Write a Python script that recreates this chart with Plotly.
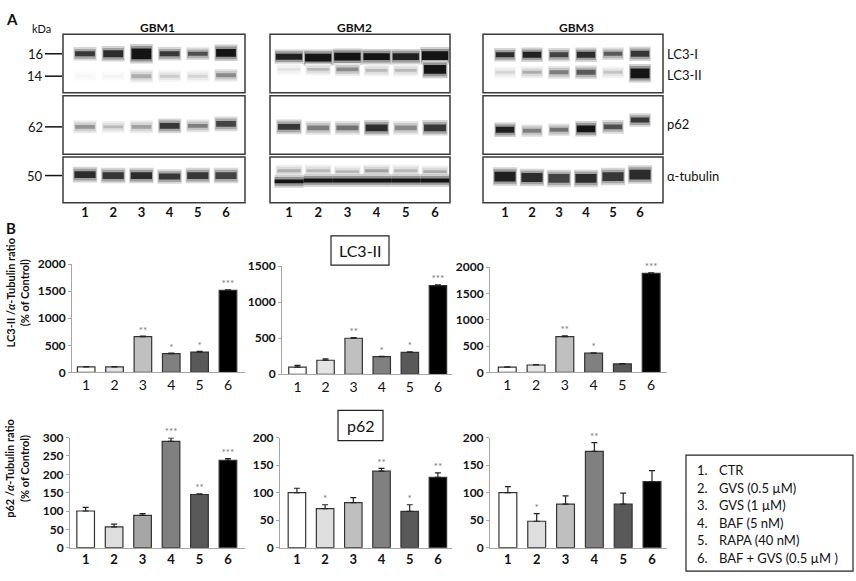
import plotly.graph_objects as go

W, H = 856, 581
FONT = "Lato, Liberation Sans, sans-serif"

# ---------------- data ----------------
lanes = [1, 2, 3, 4, 5, 6]
lane_labels = ["1", "2", "3", "4", "5", "6"]
panels = ["GBM1", "GBM2", "GBM3"]
protein_labels = ["LC3-I", "LC3-II", "p62", "α-tubulin"]
marker_kda = ["16", "14", "62", "50"]
marker_pos = [47, 70, 122, 172]  # migration rows of the ladder marks

# blot band intensity (0-1), band thickness and migration row per lane
gbm1_lc3i = [0.85, 0.9, 1.0, 0.85, 0.75, 1.0]
gbm1_lc3i_h = [5, 7, 11, 5, 4, 8]
gbm1_lc3i_y = [47, 47, 47, 47, 47, 46]
gbm1_lc3ii = [0.04, 0.05, 0.35, 0.22, 0.18, 0.5]
gbm1_lc3ii_h = [3, 3, 4, 3, 3, 4]
gbm1_lc3ii_y = [70, 70, 70, 70, 70, 69]
gbm1_p62 = [0.45, 0.3, 0.4, 0.85, 0.55, 0.8]
gbm1_p62_h = [4, 3, 4, 6, 4, 6]
gbm1_p62_y = [122, 122, 122, 121, 121, 119]
gbm1_tub = [0.9, 0.85, 0.9, 0.85, 0.85, 0.8]
gbm1_tub_h = [7, 7, 7, 6, 7, 7]
gbm1_tub_y = [171, 172, 172, 173, 172, 172]

gbm2_lc3i = [0.95, 1.0, 1.0, 1.0, 0.95, 1.0]
gbm2_lc3i_h = [6, 8, 8, 7, 7, 9]
gbm2_lc3i_y = [50, 51, 50, 50, 50, 49]
gbm2_lc3ii = [0.12, 0.3, 0.5, 0.3, 0.3, 1.0]
gbm2_lc3ii_h = [3, 3, 4, 3, 3, 9]
gbm2_lc3ii_y = [63, 63, 63, 64, 64, 63]
gbm2_p62 = [0.85, 0.55, 0.6, 0.9, 0.5, 0.85]
gbm2_p62_h = [6, 5, 5, 7, 5, 7]
gbm2_p62_y = [122, 123, 123, 123, 123, 123]
gbm2_tub_a = [0.35, 0.3, 0.3, 0.4, 0.3, 0.35]
gbm2_tub_a_h = [3, 3, 3, 3, 3, 3]
gbm2_tub_a_y = [167, 167, 168, 167, 167, 168]
gbm2_tub_b = [1.0, 1.0, 1.0, 1.0, 1.0, 1.0]
gbm2_tub_b_h = [4, 4, 4, 4, 4, 4]
gbm2_tub_b_y = [178, 177, 177, 177, 177, 177]

gbm3_lc3i = [0.9, 0.95, 0.8, 0.9, 0.7, 0.85]
gbm3_lc3i_h = [5, 6, 5, 6, 4, 6]
gbm3_lc3i_y = [48, 48, 48, 48, 47, 47]
gbm3_lc3ii = [0.18, 0.35, 0.55, 0.7, 0.25, 1.0]
gbm3_lc3ii_h = [3, 3, 4, 5, 3, 10]
gbm3_lc3ii_y = [66, 66, 66, 66, 66, 67]
gbm3_p62 = [0.95, 0.55, 0.6, 1.0, 0.75, 0.85]
gbm3_p62_h = [6, 4, 4, 7, 5, 5]
gbm3_p62_y = [125, 126, 125, 124, 122, 115]
gbm3_tub = [0.95, 0.9, 0.8, 0.9, 0.85, 0.9]
gbm3_tub_h = [10, 9, 9, 9, 9, 10]
gbm3_tub_y = [173, 174, 175, 175, 173, 171]

# quantification (% of control), upper error, significance
lc3_gbm1 = [100, 100, 660, 345, 375, 1515]
lc3_gbm1_err = [5, 8, 12, 12, 12, 12]
lc3_gbm1_sig = ["", "", "**", "*", "*", "***"]
lc3_gbm2 = [100, 195, 500, 245, 305, 1230]
lc3_gbm2_err = [25, 20, 8, 5, 5, 10]
lc3_gbm2_sig = ["", "", "**", "*", "*", "***"]
lc3_gbm3 = [100, 140, 680, 365, 160, 1880]
lc3_gbm3_err = [5, 5, 15, 5, 8, 10]
lc3_gbm3_sig = ["", "", "**", "*", "", "***"]

p62_gbm1 = [100, 57, 88, 290, 145, 238]
p62_gbm1_err = [10, 7, 5, 9, 2, 5]
p62_gbm1_sig = ["", "", "", "***", "**", "***"]
p62_gbm2 = [100, 71, 82, 139, 66, 128]
p62_gbm2_err = [8, 7, 9, 5, 12, 8]
p62_gbm2_sig = ["", "*", "", "**", "*", "**"]
p62_gbm3 = [100, 48, 79, 175, 79, 120]
p62_gbm3_err = [11, 14, 15, 16, 20, 20]
p62_gbm3_sig = ["", "*", "", "**", "", ""]

lc3_ticks = [[0, 500, 1000, 1500, 2000], [0, 500, 1000, 1500], [0, 500, 1000, 1500, 2000]]
p62_ticks = [[0, 50, 100, 150, 200, 250, 300], [0, 50, 100, 150, 200], [0, 50, 100, 150, 200]]

treatments = ["CTR", "GVS (0.5 µM)", "GVS (1 µM)", "BAF (5 nM)", "RAPA (40 nM)", "BAF + GVS (0.5 µM )"]

bar_colors_top = ["#ffffff", "#e4e4e4", "#c0c0c0", "#808080", "#595959", "#000000"]
bar_colors_p1 = ["#ffffff", "#dedede", "#a6a6a6", "#808080", "#595959", "#000000"]
bar_colors_bot = ["#ffffff", "#dedede", "#bfbfbf", "#808080", "#595959", "#000000"]


def px(x):
    return x / W


def py(y):
    return 1 - y / H


def grey(v, scale=1.0):
    g = int(round(255 - 235 * v * scale))
    return f"rgb({g},{g},{g})"


def label(text, x, y, size=13, xanchor="center", **kw):
    # paper-anchored text, positions in screen pixels
    return dict(text=text, x=px(x), y=py(y), xref="paper", yref="paper", showarrow=False,
                xanchor=xanchor, yanchor="middle",
                font=dict(family=FONT, size=size, color="#111"), **kw)


fig = go.Figure()
layout = {}
annotations = []
shapes = []

# ---------------- panel A: blots ----------------
blot_cols = [
    dict(name="GBM1", lanes=(85, 226), box=(63, 245), title_x=157,
         bands=[(gbm1_lc3i, gbm1_lc3i_h, gbm1_lc3i_y, 0.7),
                (gbm1_lc3ii, gbm1_lc3ii_h, gbm1_lc3ii_y, 0.7),
                (gbm1_p62, gbm1_p62_h, gbm1_p62_y, 0.7),
                (gbm1_tub, gbm1_tub_h, gbm1_tub_y, 0.75)]),
    dict(name="GBM2", lanes=(289, 435), box=(270, 450), title_x=354,
         bands=[(gbm2_lc3i, gbm2_lc3i_h, gbm2_lc3i_y, 0.9),
                (gbm2_lc3ii, gbm2_lc3ii_h, gbm2_lc3ii_y, 0.75),
                (gbm2_p62, gbm2_p62_h, gbm2_p62_y, 0.75),
                (gbm2_tub_a, gbm2_tub_a_h, gbm2_tub_a_y, 0.8),
                (gbm2_tub_b, gbm2_tub_b_h, gbm2_tub_b_y, 1.0)]),
    dict(name="GBM3", lanes=(505, 640), box=(483, 663), title_x=576,
         bands=[(gbm3_lc3i, gbm3_lc3i_h, gbm3_lc3i_y, 0.68),
                (gbm3_lc3ii, gbm3_lc3ii_h, gbm3_lc3ii_y, 0.7),
                (gbm3_p62, gbm3_p62_h, gbm3_p62_y, 0.68),
                (gbm3_tub, gbm3_tub_h, gbm3_tub_y, 0.78)]),
]
blot_rows = [(27, 87), (90, 150), (153, 200)]
halo = [(9, 0.12, 0.2), (5, 0.06, 0.45)]  # extra thickness, extra width, darkness

ax = 0
for col in blot_cols:
    ax += 1
    xa, ya = f"x{ax}", f"y{ax}"
    l1, l6 = col["lanes"]
    sp = (l6 - l1) / 5
    layout[f"xaxis{ax}"] = dict(
        domain=[px(l1 - sp / 2), px(l6 + sp / 2)], range=[0.5, 6.5], anchor=ya,
        showline=False, showgrid=False, zeroline=False, ticks="",
        tickvals=lanes, ticktext=lane_labels,
        tickfont=dict(family=FONT, size=13, color="#111", weight="bold"))
    layout[f"yaxis{ax}"] = dict(
        domain=[py(200), py(27)], range=[200, 27], anchor=xa, visible=False)
    for vals, hts, ys, wd in col["bands"]:
        # soft halo layers then the band core
        for dh, dw, k in halo:
            fig.add_trace(go.Bar(
                x=lanes, y=[h + dh for h in hts], base=[y - (h + dh) / 2 for y, h in zip(ys, hts)],
                width=min(wd + dw, 1.0),
                marker=dict(color=[grey(v, k) for v in vals], line_width=0),
                xaxis=xa, yaxis=ya, hoverinfo="skip"))
        fig.add_trace(go.Bar(
            x=lanes, y=hts, base=[y - h / 2 for y, h in zip(ys, hts)],
            width=wd, marker=dict(color=[grey(v) for v in vals], line_width=0),
            xaxis=xa, yaxis=ya, hoverinfo="skip"))
    bx0, bx1 = col["box"]
    for r0, r1 in blot_rows:
        shapes.append(dict(type="rect", xref="paper", yref="paper",
                           x0=px(bx0), x1=px(bx1), y0=py(r1), y1=py(r0),
                           line=dict(color="#3a3a3a", width=1.5)))
    annotations.append(label("<b>%s</b>" % col["name"], col["title_x"], 20, size=12))

# ladder marks
for kda, yy in zip(marker_kda, marker_pos):
    annotations.append(label(kda, 45, yy, xanchor="right"))
    shapes.append(dict(type="line", xref="paper", yref="paper", x0=px(45), x1=px(62),
                       y0=py(yy), y1=py(yy), line=dict(color="#111", width=1.5)))
annotations.append(label("kDa", 30, 21, size=11, xanchor="left"))
for lab, yy in zip(protein_labels, [47, 69, 119, 172]):
    annotations.append(label(lab, 665, yy, xanchor="left"))
annotations.append(label("<b>A</b>", 4, 11, size=15, xanchor="left"))
annotations.append(label("<b>B</b>", 4, 226, size=15, xanchor="left"))

# ---------------- panel B: bar charts ----------------
charts = [
    dict(v=lc3_gbm1, e=lc3_gbm1_err, s=lc3_gbm1_sig, dom=(72, 245), xr=(0.5, 6.6), yd=(374, 263),
         yr=2000, ticks=lc3_ticks[0], colors=bar_colors_top, boldx=False),
    dict(v=lc3_gbm2, e=lc3_gbm2_err, s=lc3_gbm2_sig, dom=(282, 452), xr=(0.45, 6.5), yd=(376, 265),
         yr=1500, ticks=lc3_ticks[1], colors=bar_colors_top, boldx=False),
    dict(v=lc3_gbm3, e=lc3_gbm3_err, s=lc3_gbm3_sig, dom=(490, 667), xr=(0.4, 6.55), yd=(374, 266),
         yr=2000, ticks=lc3_ticks[2], colors=bar_colors_top, boldx=False),
    dict(v=p62_gbm1, e=p62_gbm1_err, s=p62_gbm1_sig, dom=(70, 245), xr=(0.45, 6.6), yd=(554, 441),
         yr=300, ticks=p62_ticks[0], colors=bar_colors_p1, boldx=True),
    dict(v=p62_gbm2, e=p62_gbm2_err, s=p62_gbm2_sig, dom=(280, 452), xr=(0.4, 6.5), yd=(554, 441),
         yr=200, ticks=p62_ticks[1], colors=bar_colors_bot, boldx=True),
    dict(v=p62_gbm3, e=p62_gbm3_err, s=p62_gbm3_sig, dom=(490, 667), xr=(0.38, 6.52), yd=(554, 441),
         yr=200, ticks=p62_ticks[2], colors=bar_colors_bot, boldx=True),
]

for c in charts:
    ax += 1
    xa, ya = f"x{ax}", f"y{ax}"
    layout[f"xaxis{ax}"] = dict(
        domain=[px(c["dom"][0]), px(c["dom"][1])], range=list(c["xr"]), anchor=ya,
        showline=True, linecolor="#a6a6a6", linewidth=1, showgrid=False, zeroline=False,
        ticks="", tickvals=lanes, ticktext=lane_labels,
        tickfont=dict(family=FONT, size=14 if not c["boldx"] else 13, color="#111",
                      weight="bold" if c["boldx"] else "normal"))
    layout[f"yaxis{ax}"] = dict(
        domain=[py(c["yd"][0]), py(c["yd"][1])], range=[0, c["yr"]], anchor=xa,
        showline=True, linecolor="#a6a6a6", linewidth=1, showgrid=False, zeroline=False,
        ticks="outside", ticklen=3, tickcolor="#a6a6a6", tickvals=c["ticks"],
        tickfont=dict(family=FONT, size=12, color="#111", weight="bold"))
    fig.add_trace(go.Bar(
        x=lanes, y=c["v"], width=0.62, xaxis=xa, yaxis=ya,
        marker=dict(color=c["colors"], line=dict(color="#333", width=1.2)),
        error_y=dict(type="data", array=c["e"], arrayminus=[0] * 6, symmetric=False,
                     color="#222", thickness=1.2, width=3)))
    fig.add_trace(go.Scatter(
        x=lanes, y=[v + e for v, e in zip(c["v"], c["e"])], text=c["s"], mode="text",
        textposition="top center", textfont=dict(family=FONT, size=10, color="#777"),
        cliponaxis=False, xaxis=xa, yaxis=ya, hoverinfo="skip"))

# y axis titles
for title, yc in [("LC3-II /<i>α</i>-Tubulin ratio<br>(% of Control)", 293),
                  ("p62 /<i>α</i>-Tubulin ratio<br>(% of Control)", 473)]:
    annotations.append(label("<b>%s</b>" % title, 17, yc, size=11, textangle=-90))

# boxed row labels
for lab, (x0, y0, x1, y1) in [("LC3-II", (331, 234, 389, 264)), ("p62", (338, 413, 383, 444))]:
    shapes.append(dict(type="rect", xref="paper", yref="paper", x0=px(x0), x1=px(x1),
                       y0=py(y1), y1=py(y0), line=dict(color="#222", width=1.2)))
    annotations.append(label(lab, (x0 + x1) / 2, (y0 + y1) / 2, size=16))

# treatment key
shapes.append(dict(type="rect", xref="paper", yref="paper", x0=px(686), x1=px(853),
                   y0=py(578), y1=py(459), line=dict(color="#222", width=1.2)))
for i, t in enumerate(treatments):
    yy = 474.5 + i * 18
    annotations.append(label("%d." % (i + 1), 695, yy, xanchor="left"))
    annotations.append(label(t, 717, yy, xanchor="left"))

fig.update_layout(
    width=W, height=H, margin=dict(l=0, r=0, t=0, b=0),
    paper_bgcolor="white", plot_bgcolor="rgba(0,0,0,0)",
    barmode="overlay", showlegend=False,
    annotations=annotations, shapes=shapes, **layout)

# let the figure sit flush in the window (no default body margin, no modebar)
fig.write_html("out.html", config={"displayModeBar": False},
               post_script="document.body.style.margin='0';")
